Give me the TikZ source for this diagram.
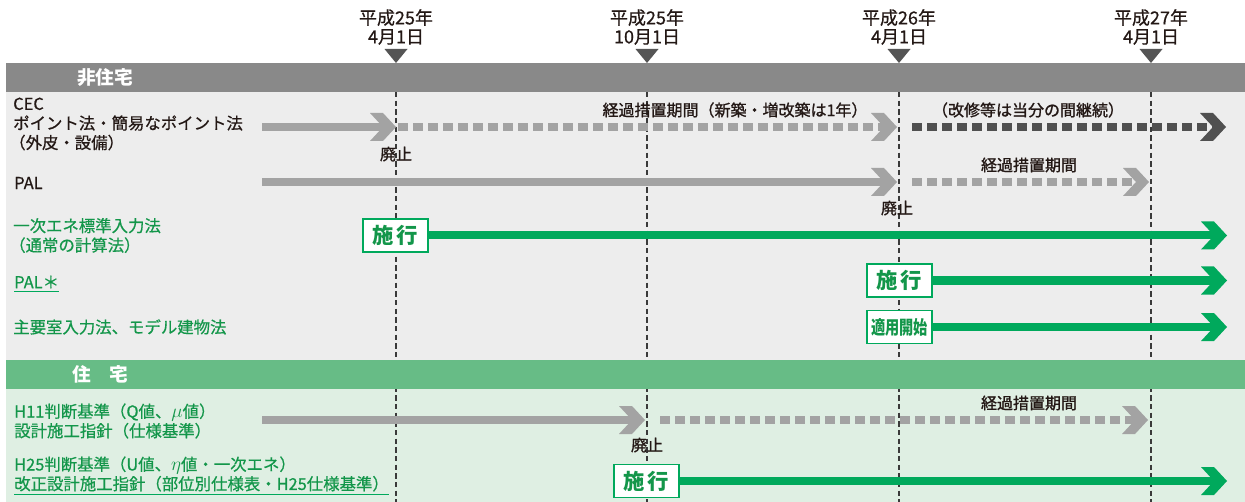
\documentclass[tikz,border=0pt]{standalone}
\usepackage{fontspec}
\setmainfont{Noto Sans CJK JP}
\newfontfamily\medfont{Noto Sans CJK JP}[FakeBold=0.6]
\newfontfamily\semifont{Noto Sans CJK JP}[FakeBold=1.2]
\usepackage{graphicx}
\definecolor{ink}{HTML}{231815}
\definecolor{gtext}{HTML}{13964A}
\definecolor{gline}{HTML}{00A95C}
\definecolor{garrow}{HTML}{00A95C}
\definecolor{gray1}{HTML}{A3A3A3}
\definecolor{darkg}{HTML}{505050}
\definecolor{barg}{HTML}{898989}
\definecolor{bgg}{HTML}{EDEDED}
\definecolor{barv}{HTML}{67BC86}
\definecolor{bgv}{HTML}{DFEFE3}
\definecolor{vcol}{HTML}{3A3A3A}
\definecolor{tricol}{HTML}{555555}
\begin{document}
\begin{tikzpicture}[x=0.75pt,y=-0.75pt,
  lbl/.style={anchor=west, inner sep=0pt, align=left, font=\medfont\fontsize{12.3}{14.6}\selectfont, text=ink},
  glbl/.style={lbl, text=gtext},
  note/.style={inner sep=0pt, font=\semifont\fontsize{12}{14}\selectfont, text=ink},
  datelbl/.style={inner sep=0pt, align=center, font=\medfont\fontsize{13.5}{14.2}\selectfont, text=ink},
  sect/.style={inner sep=0pt, font=\fontsize{14}{16}\bfseries\selectfont, text=white},
  gobox/.style={draw=gline, line width=1.1pt, fill=white, minimum width=48.75pt, minimum height=24.75pt, inner sep=0pt, text=gtext, font=\fontsize{16}{18}\bfseries\selectfont},
  vline/.style={draw=vcol, line width=0.9pt, dash pattern=on 4pt off 2.5pt},
  solidg/.style={draw=gray1, line width=6pt, shorten >=9.75pt},
  dashg/.style={draw=gray1, line width=6pt, dash pattern=on 7.5pt off 3.75pt, shorten >=9.75pt},
  dashd/.style={draw=darkg, line width=6pt, dash pattern=on 7.5pt off 3.75pt, shorten >=9.75pt},
  gshaft/.style={draw=garrow, line width=6pt, shorten >=9.75pt},
  chev/.pic={\fill[#1] (-26,-14) -- (-13,-14) -- (0,0) -- (-13,14) -- (-26,14) -- (-13,0) -- cycle;},
]
\useasboundingbox (0,0) rectangle (1245,502);
% backgrounds
\fill[white] (0,0) rectangle (1245,502);
\fill[bgg] (6,92) rectangle (1245,360);
\fill[bgv] (6,389) rectangle (1245,502);
% timeline points
\coordinate (t1) at (396,63);
\coordinate (t2) at (647,63);
\coordinate (t3) at (899,63);
\coordinate (t4) at (1151,63);
\foreach \t in {t1,t2,t3,t4}{
  \draw[vline] (\t |- 0,92) -- (\t |- 0,502);
}
% section bars
\fill[barg] (6,63) rectangle (1245,92);
\fill[barv] (6,360) rectangle (1245,389);
\node[sect] (hdr1) at (105,77.5) {非住宅};
\node[sect] (hdr2) at (100,374.5) {住　宅};
% triangles and dates
\foreach \t in {t1,t2,t3,t4}{
  \fill[tricol] (\t) -- ++(-11.5,-14) -- ++(23,0) -- cycle;
}
\node[datelbl] (d1) at (396,27) {平成25年\\4月1日};
\node[datelbl] (d2) at (647,27) {平成25年\\10月1日};
\node[datelbl] (d3) at (899,27) {平成26年\\4月1日};
\node[datelbl] (d4) at (1151,27) {平成27年\\4月1日};

% ---- non-residential rows
\node[lbl] (cec) at (13,124) {CEC\\ポイント法・簡易なポイント法\\\hspace{-3pt}（外皮・設備）};
\node[lbl] (pal) at (14,183) {PAL};
\node[glbl] (ichiji) at (13,235.5) {一次エネ標準入力法\\\hspace{-3pt}（通常の計算法）};
\node[glbl] (palstar) at (14,282) {PAL＊};
\draw[gline, line width=0.8pt] ([yshift=-2pt]palstar.south west) -- ([yshift=-2pt]palstar.south east);
\node[glbl] (shuyo) at (13,327) {主要室入力法、モデル建物法};

% CEC arrows
\coordinate (cecS) at (262,127);
\coordinate (cecT1) at (396,127);
\coordinate (cecD1) at (398,127);
\coordinate (cecT2) at (897,127);
\coordinate (cecD2) at (912,127);
\coordinate (cecT3) at (1226,127);
\draw[solidg] (cecS) -- (cecT1);
\pic at (cecT1) {chev=gray1};
\draw[dashg] (cecD1) -- (cecT2);
\pic at (cecT2) {chev=gray1};
\draw[dashd] (cecD2) -- (cecT3);
\pic at (cecT3) {chev=darkg};
\node[note] (n1) at (735,110) {経過措置期間（新築・増改築は1年）};
\node[note] (n2) at (1028,110) {（改修等は当分の間継続）};
\node[note] (ab1) at (396,154) {廃止};

% PAL arrows
\coordinate (palS) at (262,182);
\coordinate (palT1) at (897,182);
\coordinate (palD) at (912,182);
\coordinate (palT2) at (1149,182);
\draw[solidg] (palS) -- (palT1);
\pic at (palT1) {chev=gray1};
\draw[dashg] (palD) -- (palT2);
\pic at (palT2) {chev=gray1};
\node[note] (n3) at (1029,165) {経過措置期間};
\node[note] (ab2) at (897,208) {廃止};

% green rows
\node[gobox] (b1) at (395.5,235.5) {施\hspace{2pt}行};
\coordinate (r3T) at (1227,235.5);
\draw[gshaft] (b1.east) -- (r3T);
\pic at (r3T) {chev=garrow};
\node[gobox] (b2) at (899.5,280.5) {施\hspace{2pt}行};
\coordinate (r4T) at (1227,280.5);
\draw[gshaft] (b2.east) -- (r4T);
\pic at (r4T) {chev=garrow};
\node[gobox, font=\fontsize{14}{16}\bfseries\selectfont] (b3) at (899.5,327) {\scalebox{0.76}[1]{適用開始}};
\coordinate (r5T) at (1227,327);
\draw[gshaft] (b3.east) -- (r5T);
\pic at (r5T) {chev=garrow};

% ---- residential rows
\node[glbl] (h11) at (14,421) {H11判断基準（Q値、\scalebox{1.2}{$\mu$}値）\\設計施工指針（仕様基準）};
\node[glbl] (h25) at (14,474) {H25判断基準（U値、\scalebox{1.2}{$\eta$}値・一次エネ）\\改正設計施工指針（部位別仕様表・H25仕様基準）};
\draw[gline, line width=0.8pt] ([yshift=-2pt]h25.south west) -- ([yshift=-2pt]h25.south east);

\coordinate (h11S) at (262,420);
\coordinate (h11T1) at (645,420);
\coordinate (h11D) at (660,420);
\coordinate (h11T2) at (1148,420);
\draw[solidg] (h11S) -- (h11T1);
\pic at (h11T1) {chev=gray1};
\draw[dashg] (h11D) -- (h11T2);
\pic at (h11T2) {chev=gray1};
\node[note] (n4) at (1029,403) {経過措置期間};
\node[note] (ab3) at (647,445) {廃止};

\node[gobox] (b4) at (646.5,481) {施\hspace{2pt}行};
\coordinate (r7T) at (1227,481);
\draw[gshaft] (b4.east) -- (r7T);
\pic at (r7T) {chev=garrow};
\end{tikzpicture}
\end{document}
